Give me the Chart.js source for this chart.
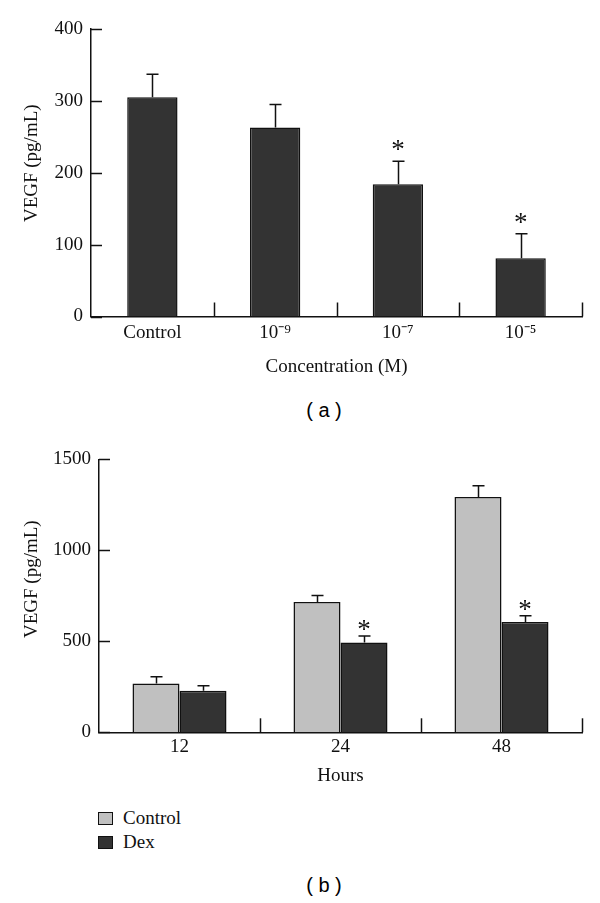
<!DOCTYPE html>
<html lang="en">
<head>
  <meta charset="UTF-8">
  <title>VEGF secretion</title>
  <script src="https://cdn.jsdelivr.net/npm/chart.js"></script>
  <style>
    body { margin: 0; background: #fff; }
    #page { position: relative; width: 600px; height: 903px; overflow: hidden; }
    canvas { position: absolute; left: 0; }
    .panel { position: absolute; width: 60px; margin-left: -30px; text-align: center;
             font: 20px 'Liberation Sans', Arial, sans-serif; color: #000; }
    .legend { position: absolute; left: 98px; top: 808px; font: 19px 'Liberation Serif', serif; color: #111; }
    .legend div { height: 24px; line-height: 19px; }
    .legend span { display: inline-block; width: 13px; height: 11px; border: 1px solid #111;
                   margin-right: 10px; vertical-align: -1px; }
  </style>
</head>
<body>
<div id="page">
  <canvas id="chartA" width="600" height="380" style="top:0"></canvas>
  <div class="panel" style="left:324px; top:399px">( a )</div>
  <canvas id="chartB" width="600" height="360" style="top:440px"></canvas>
  <div class="legend">
    <div><span style="background:#c0c0c0"></span>Control</div>
    <div><span style="background:#333333"></span>Dex</div>
  </div>
  <div class="panel" style="left:324px; top:874px">( b )</div>
</div>

<script>
  // panel (a): concentration series
  const concLabels = ['Control', '10\u207B\u2079', '10\u207B\u2077', '10\u207B\u2075'];
  const concMeans = [305, 263, 184, 81];
  const concErrTop = [337, 295, 216, 115];
  const concSig = [false, false, true, true];
  const concTicks = [0, 100, 200, 300, 400];

  // panel (b): time course
  const hourLabels = ['12', '24', '48'];
  const ctrlMeans = [268, 716, 1294];
  const ctrlErrTop = [306, 752, 1355];
  const dexMeans = [229, 493, 606];
  const dexErrTop = [256, 530, 641];
  const dexSig = [false, true, true];
  const hourTicks = [0, 500, 1000, 1500];

  const serif = "'Liberation Serif', 'Times New Roman', serif";
  const ink = '#111';

  // error bars, asterisks, inward ticks drawn from the chart's own scales
  const decorPlugin = {
    id: 'decor',
    afterDatasetsDraw(chart, args, opts) {
      const ctx = chart.ctx;
      const x = chart.scales.x, y = chart.scales.y;
      const area = chart.chartArea;
      ctx.save();
      ctx.strokeStyle = ink;
      ctx.lineWidth = 1.5;
      ctx.lineCap = 'butt';

      // y ticks pointing into the plot
      opts.yTicks.forEach(v => {
        const py = Math.round(y.getPixelForValue(v)) + 0.5;
        ctx.beginPath();
        ctx.moveTo(area.left, py);
        ctx.lineTo(area.left + 11, py);
        ctx.stroke();
      });

      // category dividers on the x axis, pointing up
      const n = x.getLabels().length;
      for (let i = 1; i <= n; i++) {
        const px = i < n ? (x.getPixelForValue(i - 1) + x.getPixelForValue(i)) / 2 : area.right;
        ctx.beginPath();
        ctx.moveTo(Math.round(px) + 0.5, area.bottom);
        ctx.lineTo(Math.round(px) + 0.5, area.bottom - 14);
        ctx.stroke();
      }

      // error bars
      opts.errors.forEach((errs, di) => {
        const meta = chart.getDatasetMeta(di);
        meta.data.forEach((bar, i) => {
          const bx = Math.round(bar.x) + 0.5;
          const top = y.getPixelForValue(errs[i]);
          ctx.beginPath();
          ctx.moveTo(bx, bar.y);
          ctx.lineTo(bx, top);
          ctx.moveTo(bx - 6, top);
          ctx.lineTo(bx + 6, top);
          ctx.stroke();
        });
      });

      // significance marks
      ctx.fillStyle = ink;
      ctx.font = '27px ' + serif;
      ctx.textAlign = 'center';
      ctx.textBaseline = 'alphabetic';
      opts.sig.forEach(([di, flags, errs]) => {
        const meta = chart.getDatasetMeta(di);
        flags.forEach((f, i) => {
          if (!f) return;
          const top = y.getPixelForValue(errs[i]);
          ctx.fillText('*', meta.data[i].x, top - opts.starGap + 13);
        });
      });
      ctx.restore();
    }
  };

  function yScale(max, ticks, width, title) {
    return {
      min: 0, max: max,
      afterFit: s => { s.width = width; },
      afterBuildTicks: s => { s.ticks = ticks.map(v => ({ value: v })); },
      grid: { display: false, drawTicks: false },
      border: { display: true, color: ink, width: 1.5 },
      ticks: { padding: 8, color: ink, font: { family: serif, size: 19 }, callback: v => String(v) },
      title: { display: true, text: title, color: ink, padding: { top: 21 },
               font: { family: serif, size: 19 } }
    };
  }

  function xScale(height, tickPad, titlePad, title) {
    return {
      afterFit: s => { s.height = height; },
      grid: { display: false, drawTicks: false },
      border: { display: true, color: ink, width: 1.5 },
      ticks: { padding: tickPad, color: ink, font: { family: serif, size: 19 } },
      title: { display: true, text: title, color: ink, padding: { bottom: titlePad },
               font: { family: serif, size: 19 } }
    };
  }

  new Chart(document.getElementById('chartA'), {
    type: 'bar',
    data: {
      labels: concLabels,
      datasets: [{
        label: 'VEGF',
        data: concMeans,
        backgroundColor: '#333333',
        borderColor: ink,
        borderWidth: 1.5,
        categoryPercentage: 1,
        barPercentage: 0.41
      }]
    },
    options: {
      responsive: false,
      animation: false,
      layout: { padding: { top: 29, right: 18, left: 0, bottom: 0 } },
      plugins: {
        legend: { display: false },
        tooltip: { enabled: false },
        decor: { yTicks: concTicks, errors: [concErrTop], sig: [[0, concSig, concErrTop]], starGap: 16 }
      },
      scales: {
        x: xScale(63.5, 5, 2, 'Concentration (M)'),
        y: yScale(400, concTicks, 91, '    VEGF (pg/mL)')
      }
    },
    plugins: [decorPlugin]
  });

  new Chart(document.getElementById('chartB'), {
    type: 'bar',
    data: {
      labels: hourLabels,
      datasets: [
        { label: 'Control', data: ctrlMeans, backgroundColor: '#c0c0c0', borderColor: ink,
          borderWidth: 1.5, categoryPercentage: 0.584, barPercentage: 1 },
        { label: 'Dex', data: dexMeans, backgroundColor: '#333333', borderColor: ink,
          borderWidth: 1.5, categoryPercentage: 0.584, barPercentage: 1 }
      ]
    },
    options: {
      responsive: false,
      animation: false,
      layout: { padding: { top: 15.7, right: 18, left: 0, bottom: 0 } },
      plugins: {
        legend: { display: false },
        tooltip: { enabled: false },
        decor: { yTicks: hourTicks, errors: [ctrlErrTop, dexErrTop], sig: [[1, dexSig, dexErrTop]], starGap: 11 }
      },
      scales: {
        x: xScale(67.7, 3, 13, 'Hours'),
        y: yScale(1500, hourTicks, 99, '       VEGF (pg/mL)')
      }
    },
    plugins: [decorPlugin]
  });
</script>
</body>
</html>
